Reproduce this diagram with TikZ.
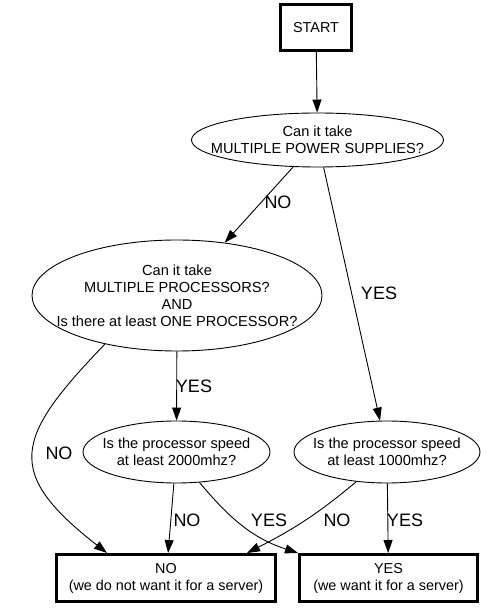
\documentclass[tikz,border=0pt]{standalone}
\usepackage{fontspec}
\setmainfont{Liberation Sans}
\usetikzlibrary{arrows.meta, shapes.geometric}

\begin{document}
\begin{tikzpicture}[x=1pt,y=1pt,
	box/.style={draw, line width=3pt, align=center, inner sep=0pt, font=\fontsize{14.4}{17}\selectfont},
	question/.style={draw, ellipse, line width=0.9pt, align=center, inner xsep=-20pt, inner ysep=0pt, font=\fontsize{14.6}{17}\selectfont},
	answer/.style={font=\fontsize{18}{18}\selectfont},
	flow/.style={line width=0.9pt, -{Triangle[length=13pt,width=9pt]}}]
	\useasboundingbox (0,0) rectangle (485,608);
	\node[box, minimum width=71pt, minimum height=46pt] (start) at (316,580.5) {START};
	\node[question, minimum width=252pt, minimum height=54pt] (q1) at (317.5,468) {Can it take\\MULTIPLE POWER SUPPLIES?};
	\node[question, minimum width=290pt, minimum height=111pt] (q2) at (177,312.5) {Can it take\\MULTIPLE PROCESSORS?\\AND\\Is there at least ONE PROCESSOR?};
	\node[question, minimum width=187pt, minimum height=62pt] (q3) at (176.5,156) {Is the processor speed\\at least 2000mhz?};
	\node[question, minimum width=186pt, minimum height=62pt] (q4) at (387,156) {Is the processor speed\\at least 1000mhz?};
	\node[box, minimum width=219pt, minimum height=47pt] (no) at (166,30) {NO\\(we do not want it for a server)};
	\node[box, minimum width=178pt, minimum height=47pt] (yes) at (388.5,30) {YES\\(we want it for a server)};

	\draw[flow] (start) -- (q1);
	\draw[flow] (q1) -- (q2);
	\draw[flow] (q1) -- (q4);
	\draw[flow] (q2) -- (q3);
	\draw[flow] (q2.-146.6) to[out=226,in=142,looseness=1.6] ([xshift=-59pt]no.north);
	\draw[flow] (q3) -- (no);
	\draw[flow] (q3.-53) to[out=-50,in=162] (yes.north west);
	\draw[flow] (q4.-136) to[out=220,in=27] ([xshift=81pt]no.north);
	\draw[flow] (q4) -- (yes);

	\node[answer] (l1) at (278,406) {NO};
	\node[answer] (l2) at (379,315) {YES};
	\node[answer] (l3) at (194,222) {YES};
	\node[answer] (l4) at (59,155) {NO};
	\node[answer] (l5) at (187,88) {NO};
	\node[answer] (l6) at (269,88) {YES};
	\node[answer] (l7) at (337,88) {NO};
	\node[answer] (l8) at (405,88) {YES};
\end{tikzpicture}
\end{document}
